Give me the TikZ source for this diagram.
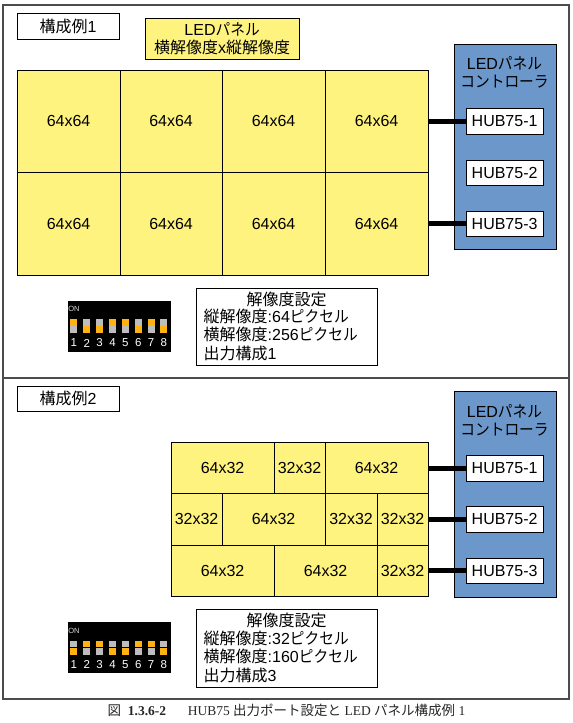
\documentclass[tikz,border=0pt]{standalone}
\usepackage{fontspec}
\setmainfont{Liberation Sans}
\newfontfamily\jpf{Noto Sans CJK JP}
\newfontfamily\jkf[FakeStretch=0.92]{Noto Sans CJK JP}
\newfontfamily\capl{Liberation Serif}
\newcommand{\jp}[1]{{\jpf #1}}
\newcommand{\jk}[1]{{\jkf #1}}
\newcommand{\lw}[1]{\raisebox{-0.8pt}{#1}}
\definecolor{panely}{HTML}{FFF380}
\definecolor{ctrlb}{HTML}{6C97CA}
\definecolor{swo}{HTML}{FFB310}
\definecolor{swg}{HTML}{BDBDBD}
\tikzset{
  txt16/.style={font=\fontsize{16}{18}\selectfont},
  bx/.style={draw=black,line width=1.2pt,anchor=north west,inner sep=0pt,align=center,txt16},
  panel/.style={bx,fill=panely},
  ctrl/.style={bx,fill=ctrlb},
  hub/.style={bx,fill=white,minimum width=77pt,minimum height=25.5pt},
  whitebox/.style={bx,fill=white},
  link/.style={line width=5pt,black},
  frameline/.style={draw=black!70,line width=1.3pt},
  label/.style={txt16,inner sep=0pt},
  labell/.style={txt16,inner sep=0pt,anchor=west},
  dipbody/.style={fill=black,draw=none,anchor=north west,minimum width=103pt,minimum height=51pt,inner sep=0pt},
  diplab/.style={text=white,font=\fontsize{11.5}{12}\selectfont,inner sep=0pt},
  onlab/.style={text=white!85!black,font=\fontsize{7.5}{8}\selectfont,inner sep=0pt}
}
\begin{document}
\begin{tikzpicture}[x=1pt,y=-1pt]
\useasboundingbox (0.5,0.5) rectangle (573.5,723.5);
\draw[frameline] (3.5,5.5) rectangle (569.5,699.5);
\draw[frameline] (3.5,378.5) -- (569.5,378.5);

% example 1
\node[whitebox,minimum width=102pt,minimum height=26pt] (t1) at (17,13) {\lw{\jp{構成例}1}};
\node[panel,minimum width=154pt,minimum height=41pt] (leg) at (145,18) {LED\jk{パネル}\\[0.6pt]\jp{横解像度}x\jp{縦解像度}};
\foreach \nm/\x/\w in {a/17/103,b/120/102,c/222/103,d/325/103}{
  \foreach \rw/\y/\h in {1/70/102,2/172/103}{
    \node[panel,minimum width=\w pt,minimum height=\h pt] (p\nm\rw) at (\x,\y) {\lw{64x64}};
  }
}
\node[ctrl,minimum width=102pt,minimum height=205pt] (c1) at (454,44) {};
\node[label,align=center] (c1t) at (505,73) {LED\jk{パネル}\\[0pt]\jk{コントローラ}};
\node[hub] (h11) at (466,108.5) {HUB75-1};
\node[hub] (h12) at (466,160) {HUB75-2};
\node[hub] (h13) at (466,211) {HUB75-3};
\draw[link] (pd1.east |- h11.west) -- (h11.west);
\draw[link] (pd2.east |- h13.west) -- (h13.west);
\node[dipbody] (dip1) at (68,301) {};
\node[onlab] (on1) at (74.5,309.5) {ON};
\foreach \i/\x/\st in {1/74.3/1,2/87.2/0,3/100/0,4/113/1,5/125.8/1,6/138.7/0,7/151.6/1,8/164.4/0}{
  \ifnum\st=1 \def\cu{swo}\def\cl{swg}\else \def\cu{swg}\def\cl{swo}\fi
  \fill[\cu] (\x-3.5,319.3) rectangle (\x+3.5,326);
  \fill[\cl] (\x-3.5,326.8) rectangle (\x+3.5,333.5);
  \node[diplab] (n1\i) at (\x,343.5) {\i};
}
\node[whitebox,minimum width=181pt,minimum height=77pt] (s1) at (196,288) {};
\node[label] (s1a) at (287,300) {\jp{解像度設定}};
\node[labell] (s1b) at (204,317) {\jp{縦解像度}:64\jk{ピクセル}};
\node[labell] (s1c) at (204,335) {\jp{横解像度}:256\jk{ピクセル}};
\node[labell] (s1d) at (204,354) {\jp{出力構成}1};

% example 2
\node[whitebox,minimum width=102pt,minimum height=25pt] (t2) at (17,386) {\lw{\jp{構成例}2}};
\foreach \nm/\x/\y/\w/\h/\txt in {
  r1a/171/442/103/51/64x32, r1b/274/442/51/51/32x32, r1c/325/442/103/51/64x32,
  r2a/171/493/51/52/32x32, r2b/222/493/103/52/64x32, r2c/325/493/52/52/32x32, r2d/377/493/51/52/32x32,
  r3a/171/545/103/51/64x32, r3b/274/545/103/51/64x32, r3c/377/545/51/51/32x32}{
  \node[panel,minimum width=\w pt,minimum height=\h pt] (\nm) at (\x,\y) {\lw{\txt}};
}
\node[ctrl,minimum width=102pt,minimum height=206pt] (c2) at (454,391) {};
\node[label,align=center] (c2t) at (505,420.5) {LED\jk{パネル}\\[0pt]\jk{コントローラ}};
\node[hub] (h21) at (466,455.5) {HUB75-1};
\node[hub] (h22) at (466,506.5) {HUB75-2};
\node[hub] (h23) at (466,558) {HUB75-3};
\draw[link] (r1c.east |- h21.west) -- (h21.west);
\draw[link] (r2d.east |- h22.west) -- (h22.west);
\draw[link] (r3c.east |- h23.west) -- (h23.west);
\node[dipbody] (dip2) at (68,622.5) {};
\node[onlab] (on2) at (74.5,631) {ON};
\foreach \i/\x/\st in {1/74.3/0,2/87.2/1,3/100/1,4/113/0,5/125.8/0,6/138.7/1,7/151.6/1,8/164.4/0}{
  \ifnum\st=1 \def\cu{swo}\def\cl{swg}\else \def\cu{swg}\def\cl{swo}\fi
  \fill[\cu] (\x-3.5,641) rectangle (\x+3.5,647.6);
  \fill[\cl] (\x-3.5,648.4) rectangle (\x+3.5,655);
  \node[diplab] (n2\i) at (\x,665) {\i};
}
\node[whitebox,minimum width=181pt,minimum height=78pt] (s2) at (196,609) {};
\node[label] (s2a) at (287,621) {\jp{解像度設定}};
\node[labell] (s2b) at (204,639) {\jp{縦解像度}:32\jk{ピクセル}};
\node[labell] (s2c) at (204,657) {\jp{横解像度}:160\jk{ピクセル}};
\node[labell] (s2d) at (204,676) {\jp{出力構成}3};

% caption
\node[font=\fontsize{13.5}{15}\selectfont\capl,inner sep=0pt,text=black!85] (cap) at (287,710.5) {\jp{図}\ \ \textbf{1.3.6-2}\hspace{1.6em}HUB75 \jp{出力ポート設定と} LED \jp{パネル構成例} 1};
\end{tikzpicture}
\end{document}
